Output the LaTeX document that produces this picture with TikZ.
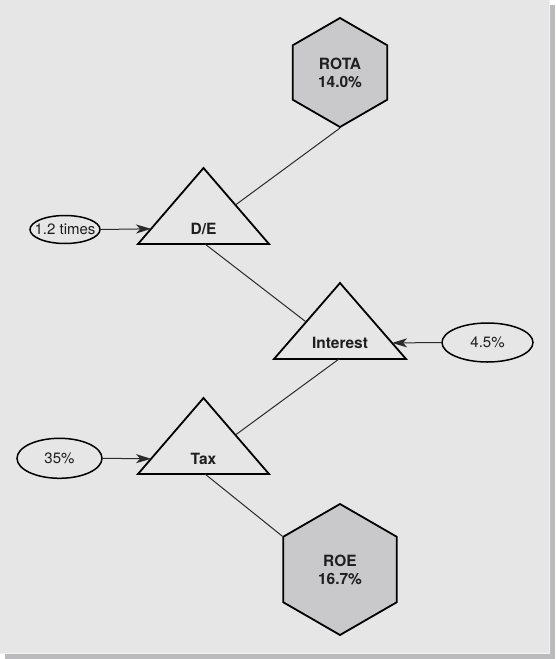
\documentclass[tikz,border=0pt]{standalone}
\usepackage{fontspec}
\setmainfont{TeX Gyre Heros}
\usetikzlibrary{shapes.geometric,arrows.meta,calc}
\definecolor{panelbg}{HTML}{E6E6E6}
\definecolor{shadowc}{HTML}{BBBBBD}
\definecolor{panelline}{HTML}{F2F2F2}
\definecolor{hexfill}{HTML}{C9C9CB}
\definecolor{txt}{HTML}{1E1E1E}
\definecolor{linkc}{HTML}{2A2A2A}
\begin{document}
\begin{tikzpicture}[x=1pt,y=-1pt,
  hexnode/.style={regular polygon, regular polygon sides=6, shape border rotate=30,
    draw=black, line width=1.8pt, fill=hexfill, inner sep=0pt, align=center,
    text=txt, font=\fontsize{15.5}{18}\selectfont\bfseries},
  tri/.style={draw=black, line width=1.8pt, line join=miter},
  trilabel/.style={text=txt, font=\fontsize{15.5}{18}\selectfont\bfseries, inner sep=0pt, anchor=base},
  valnode/.style={ellipse, draw=black, line width=1.5pt, inner sep=0pt,
    text=txt, font=\fontsize{15}{18}\selectfont},
  link/.style={draw=linkc, line width=1pt},
  arr/.style={draw=linkc, line width=1pt, -{Stealth[length=15pt,width=9pt,inset=4pt]}},
]
\useasboundingbox (0,0) rectangle (555,659);
% panel and its shadow
\fill[shadowc] (5,5) rectangle (555,659);
\fill[panelbg] (0,0) rectangle (549.5,653.5);
\draw[panelline, line width=0.8pt] (549,0) -- (549,653) -- (0,653);

% hexagons
\node[hexnode, minimum size=109pt] (rota) at (340,72.5) {ROTA\\14.0\%};
\node[hexnode, minimum size=131pt] (roe) at (340,569.5) {ROE\\16.7\%};

% triangles
\coordinate (deA) at (203.5,168);
\coordinate (deL) at (138,244);
\coordinate (deR) at (269,244);
\draw[tri] (deA) -- (deR) -- (deL) -- cycle;
\node[trilabel] (de) at (203.5,234) {D/E};

\coordinate (inA) at (340,283);
\coordinate (inL) at (274,359);
\coordinate (inR) at (406,359);
\draw[tri] (inA) -- (inR) -- (inL) -- cycle;
\node[trilabel] (int) at (340,348.5) {Interest};

\coordinate (txA) at (203.5,398);
\coordinate (txL) at (138,474);
\coordinate (txR) at (269,474);
\draw[tri] (txA) -- (txR) -- (txL) -- cycle;
\node[trilabel] (tax) at (203.5,464) {Tax};

% value ellipses
\node[valnode, minimum width=70pt, minimum height=28pt] (v12) at (65,229.5) {\makebox[0pt]{1.2 times}};
\node[valnode, minimum width=91pt, minimum height=39pt] (v45) at (487.5,342.5) {\makebox[0pt]{4.5\%}};
\node[valnode, minimum width=85pt, minimum height=40pt] (v35) at (59.5,458.3) {\makebox[0pt]{35\%}};

% connection points on triangle borders
\coordinate (de-ne) at ($(deA)!0.487!(deR)$);
\coordinate (de-s) at (205,244);
\coordinate (de-w) at ($(deA)!0.80!(deL)$);
\coordinate (in-nw) at ($(inA)!0.513!(inL)$);
\coordinate (in-s) at (339,359);
\coordinate (in-e) at ($(inA)!0.789!(inR)$);
\coordinate (tx-ne) at ($(txA)!0.487!(txR)$);
\coordinate (tx-s) at (205,474);
\coordinate (tx-w) at ($(txA)!0.80!(txL)$);

% connectors
\draw[link] (rota.south) -- (de-ne);
\draw[link] (de-s) -- (in-nw);
\draw[link] (in-s) -- (tx-ne);
\draw[link] (tx-s) -- (roe.150);

\draw[arr] (v12.east) -- (de-w);
\draw[arr] (v45.west) -- (in-e);
\draw[arr] (v35.east) -- (tx-w);
\end{tikzpicture}
\end{document}
